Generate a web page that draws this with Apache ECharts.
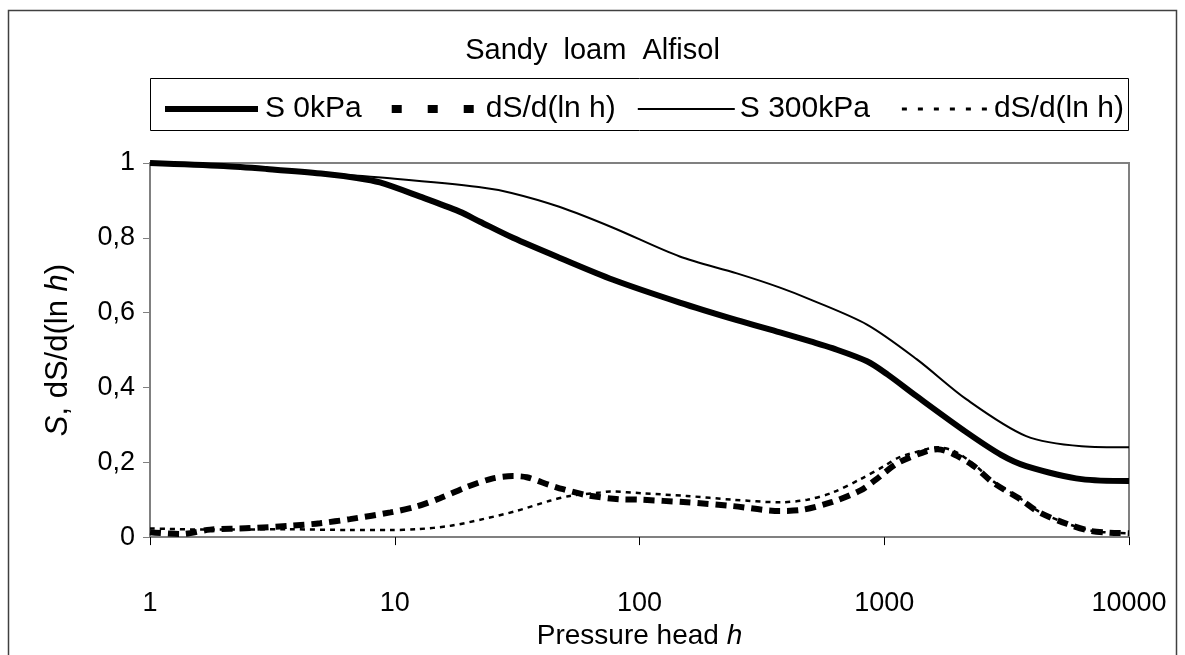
<!DOCTYPE html>
<html>
<head>
	<meta charset="utf-8">
	<title>Sandy loam Alfisol</title>
	<script src="https://cdn.jsdelivr.net/npm/echarts@6.0.0/dist/echarts.min.js"></script>
	<style>
		html, body { margin: 0; padding: 0; background: #fff; }
		#chart { width: 1185px; height: 655px; }
	</style>
</head>
<body>
<div id="chart"></div>
<script type="text/javascript">
	// values (h = pressure head, log axis)
	var hS0 = [1, 2, 3, 5, 7, 8.7, 12.7, 18.4, 22.3, 30.4, 47, 78, 146, 250, 375, 500, 614, 850, 1030, 1360, 2170, 3000, 3800, 6400, 10000];
	var s0 = [1.0, 0.992, 0.984, 0.972, 0.96, 0.948, 0.91, 0.87, 0.843, 0.8, 0.747, 0.688, 0.627, 0.58, 0.547, 0.523, 0.505, 0.47, 0.435, 0.376, 0.28, 0.22, 0.19, 0.155, 0.15];

	var hD0 = [1, 1.33, 1.76, 2.56, 3.7, 4.95, 6.56, 9.6, 12.3, 15.3, 19.7, 25.2, 30.4, 34.6, 43, 48.7, 61, 83, 100, 156, 240, 375, 452, 614, 800, 930, 1000, 1150, 1490, 1650, 1930, 2320, 2780, 3600, 4300, 5600, 6900, 8300, 10000];
	var d0 = [0.013, 0.008, 0.02, 0.024, 0.03, 0.037, 0.048, 0.066, 0.082, 0.104, 0.134, 0.157, 0.163, 0.16, 0.139, 0.128, 0.112, 0.101, 0.1, 0.093, 0.083, 0.07, 0.072, 0.094, 0.125, 0.155, 0.172, 0.2, 0.23, 0.235, 0.221, 0.19, 0.146, 0.101, 0.066, 0.035, 0.017, 0.012, 0.01];

	var hS300 = [1, 2, 3, 5, 10, 22, 30, 47, 78, 146, 250, 375, 500, 850, 1360, 2170, 3800, 6400, 10000];
	var s300 = [1.0, 0.99, 0.983, 0.973, 0.958, 0.936, 0.92, 0.883, 0.827, 0.75, 0.705, 0.667, 0.635, 0.568, 0.475, 0.368, 0.27, 0.243, 0.24];

	var hD300 = [1, 1.76, 3.7, 6.56, 9.6, 12.3, 16.8, 22.9, 31.5, 43, 52, 69, 76, 103, 156, 240, 375, 485, 614, 800, 1000, 1150, 1490, 1650, 1930, 2320, 2780, 3600, 4300, 5600, 6900, 8300, 10000];
	var d300 = [0.023, 0.02, 0.021, 0.019, 0.019, 0.021, 0.03, 0.048, 0.07, 0.097, 0.11, 0.119, 0.122, 0.117, 0.11, 0.1, 0.093, 0.1, 0.119, 0.155, 0.19, 0.213, 0.235, 0.24, 0.23, 0.195, 0.15, 0.103, 0.068, 0.036, 0.018, 0.012, 0.01];

	var seriesNames = ['S 0kPa', 'dS/d(ln h)', 'S 300kPa', 'dS/d(ln h) '];

	function pairs(xs, ys) {
		return xs.map(function (x, i) { return [x, ys[i]]; });
	}

	// legend icons drawn in a 97 x 14 box (corner points keep the box size)
	var box = 'M0,0L0,0M97,14L97,14';
	var legendIcons = [
		'path://' + box + 'M2,4H95V10H2Z',
		'path://' + box + 'M8,3H18V11H8ZM44,3H54V11H44ZM80,3H90V11H80Z',
		'path://' + box + 'M0,6H97V8H0Z',
		'path://' + box + 'M10,5.5H15V8.5H10ZM26,5.5H31V8.5H26ZM42,5.5H47V8.5H42ZM58,5.5H63V8.5H58ZM74,5.5H79V8.5H74ZM90,5.5H95V8.5H90Z'
	];

	var font = "'Liberation Sans', Arial, sans-serif";
	var myChart = echarts.init(document.getElementById('chart'));

	var option = {
		animation: false,
		backgroundColor: '#fff',
		textStyle: { fontFamily: font, color: '#000' },
		title: {
			text: 'Sandy  loam  Alfisol',
			left: 'center',
			top: 36,
			padding: [0, 0, 0, 16],
			textStyle: { fontFamily: font, fontSize: 29, fontWeight: 'normal', color: '#000' }
		},
		graphic: [
			{   // outer frame
				type: 'rect', silent: true,
				shape: { x: 8.5, y: 10.5, width: 1168, height: 700 },
				style: { fill: null, stroke: '#404040', lineWidth: 1.5 }
			},
			{   // legend box
				type: 'rect', silent: true,
				shape: { x: 150.5, y: 78.5, width: 978, height: 52 },
				style: { fill: null, stroke: '#000', lineWidth: 1 }
			}
		],
		legend: {
			data: seriesNames.map(function (n, i) {
				return { name: n, icon: legendIcons[i] };
			}),
			left: 158,
			top: 89,
			itemWidth: 97,
			itemHeight: 14,
			itemGap: 22,
			symbolKeepAspect: false,
			itemStyle: { color: '#000', borderWidth: 0 },
			textStyle: { fontFamily: font, fontSize: 30, color: '#000' }
		},
		grid: {
			left: 150, right: 56, top: 163, bottom: 117,
			show: true, borderColor: '#808080', borderWidth: 2, backgroundColor: '#fff'
		},
		xAxis: {
			type: 'log',
			logBase: 10,
			min: 1,
			max: 10000,
			name: 'Pressure head {i|h}',
			nameLocation: 'middle',
			nameGap: 78,
			nameTextStyle: {
				fontFamily: font, fontSize: 28, color: '#000',
				rich: { i: { fontFamily: font, fontSize: 28, fontStyle: 'italic', color: '#000' } }
			},
			axisLine: { lineStyle: { color: '#808080', width: 2 } },
			axisTick: { show: true, inside: false, length: 8, lineStyle: { color: '#000', width: 1 } },
			minorTick: { show: false },
			splitLine: { show: false },
			axisLabel: {
				margin: 53, fontFamily: font, fontSize: 27, color: '#000',
				formatter: function (v) { return String(Math.round(v)); }
			}
		},
		yAxis: {
			type: 'value',
			min: 0,
			max: 1,
			interval: 0.2,
			name: '{i|S}, dS/d(ln {i|h})',
			nameLocation: 'middle',
			nameGap: 76,
			nameRotate: 90,
			nameTextStyle: {
				fontFamily: font, fontSize: 31, color: '#000',
				rich: { i: { fontFamily: font, fontSize: 31, fontStyle: 'italic', color: '#000' } }
			},
			axisLine: { show: true, lineStyle: { color: '#808080', width: 2 } },
			axisTick: { show: true, length: 7, lineStyle: { color: '#808080', width: 1 } },
			splitLine: { show: false },
			axisLabel: {
				margin: 15, fontFamily: font, fontSize: 27, color: '#000',
				formatter: function (v) {
					if (v === 0) return '0';
					if (v === 1) return '1';
					return v.toFixed(1).replace('.', ',');
				}
			}
		},
		series: [
			{
				name: seriesNames[0], type: 'line', data: pairs(hS0, s0),
				showSymbol: false, symbol: 'none', smooth: 0.3,
				lineStyle: { color: '#000', width: 6 }, itemStyle: { color: '#000' }
			},
			{
				name: seriesNames[1], type: 'line', data: pairs(hD0, d0),
				showSymbol: false, symbol: 'none', smooth: 0.3,
				lineStyle: { color: '#000', width: 6, type: [11, 7] }, itemStyle: { color: '#000' }
			},
			{
				name: seriesNames[2], type: 'line', data: pairs(hS300, s300),
				showSymbol: false, symbol: 'none', smooth: 0.3,
				lineStyle: { color: '#000', width: 2 }, itemStyle: { color: '#000' }
			},
			{
				name: seriesNames[3], type: 'line', data: pairs(hD300, d300),
				showSymbol: false, symbol: 'none', smooth: 0.3,
				lineStyle: { color: '#000', width: 2.5, type: [5, 5] }, itemStyle: { color: '#000' }
			}
		]
	};
	myChart.setOption(option);
</script>
</body>
</html>
